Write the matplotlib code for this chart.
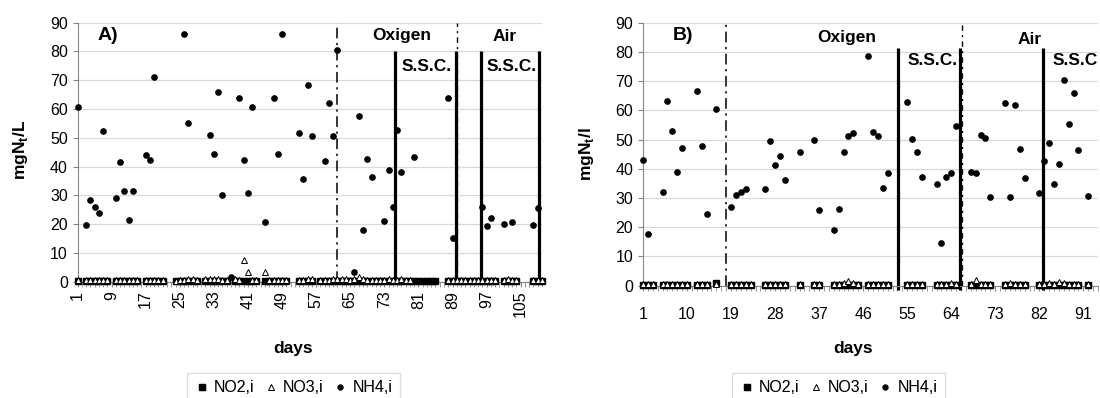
import matplotlib
matplotlib.use('Agg')
import matplotlib.pyplot as plt
from matplotlib.lines import Line2D
import numpy as np

plt.rcParams['font.family'] = 'Liberation Sans'
plt.rcParams['mathtext.fontset'] = 'custom'
plt.rcParams['mathtext.rm'] = 'Liberation Sans'
plt.rcParams['mathtext.bf'] = 'Liberation Sans:bold'

nan = np.nan

# ---- panel A data ----
a_n_days = 110
a_tick_days = [1, 9, 17, 25, 33, 41, 49, 57, 65, 73, 81, 89, 97, 105]

a_nh4_days = [1, 3, 4, 5, 6, 7, 10, 11, 12, 13, 14, 17, 18, 19, 26, 27, 32, 33, 34, 35,
              37, 39, 40, 41, 42, 45, 47, 48, 49, 53, 54, 55, 56, 59, 60, 61, 62, 66, 67, 68,
              69, 70, 73, 74, 75, 76, 77, 80, 88, 89, 96, 97, 98, 101, 103, 108, 109]
a_nh4 = [60.6, 19.7, 28.3, 25.8, 24.0, 52.3, 29.1, 41.6, 31.5, 21.4, 31.5, 44.0, 42.2, 71.1,
         85.9, 55.0, 51.0, 44.4, 65.9, 30.0, 1.7, 63.8, 42.2, 30.9, 60.8, 20.9, 63.8, 44.4,
         86.2, 51.8, 35.6, 68.2, 50.5, 42.0, 62.0, 50.8, 80.4, 3.5, 57.6, 18.0, 42.5, 36.5,
         21.2, 38.9, 25.8, 52.7, 38.0, 43.2, 64.0, 15.1, 26.1, 19.4, 22.1, 20.0, 20.6, 19.7, 25.5]

a_no_days = [1, 3, 4, 5, 6, 7, 8, 10, 11, 12, 13, 14, 15, 17, 18, 19, 20, 21,
             24, 25, 26, 27, 28, 29, 31, 32, 33, 34, 35, 36, 38, 39, 40, 41, 42, 43,
             45, 46, 47, 48, 49, 50, 53, 54, 55, 56, 58, 59, 60, 61, 62, 63, 64,
             65, 66, 67, 68, 69, 70, 71, 72, 73, 74, 75, 76, 77, 78, 79, 80, 81, 82, 83, 84, 85,
             88, 89, 90, 91, 92, 93, 94, 95, 96, 97, 98, 99, 101, 102, 103, 104, 108, 109, 110]
a_no2 = [0.3, 0.2, 0.2, 0.2, 0.2, 0.2, 0.2, 0.2, 0.2, 0.2, 0.2, 0.2, 0.2, 0.2, 0.2, 0.2, 0.2, 0.2,
         0.2, 0.2, 0.2, 0.2, 0.2, 0.2, 0.2, 0.2, 0.2, 0.2, 0.2, 0.2, 0.2, 0.2, 0.2, 0.2, 0.2, 0.2,
         0.4, 0.2, 0.2, 0.2, 0.2, 0.2, 0.2, 0.2, 0.2, 0.2, 0.2, 0.2, 0.2, 0.2, 0.2, 0.2, 0.2,
         0.3, 0.3, 0.3, 0.2, 0.2, 0.2, 0.2, 0.2, 0.2, 0.2, 0.2, 0.2, 0.2, 0.2, 0.2, 0.2, 0.2, 0.2, 0.2, 0.2, 0.2,
         0.2, 0.2, 0.2, 0.2, 0.2, 0.2, 0.2, 0.2, 0.2, 0.2, 0.2, 0.2, 0.2, 0.2, 0.2, 0.2, 0.2, 0.2, 0.2]
a_no3 = [0.6, 0.6, 0.7, 0.6, 0.6, 0.7, 0.6, 0.6, 0.6, 0.7, 0.6, 0.6, 0.7, 0.7, 0.6, 0.7, 0.6, 0.5,
         0.4, 0.5, 0.6, 1.0, 1.1, 0.6, 0.8, 0.9, 0.8, 1.0, 0.7, 0.6, 0.8, 0.6, 7.6, 3.3, 0.7, 0.5,
         3.4, 0.6, 0.7, 0.6, 0.7, 0.6, 0.6, 0.7, 1.0, 0.8, 0.6, 0.7, 0.7, 0.8, 0.9, 1.0, 0.8,
         0.7, 1.0, 1.8, 0.9, 0.6, 0.7, 0.6, 0.6, 0.7, 0.8, 0.6, 0.7, 0.8, 0.6, 0.6, nan, nan, nan, nan, nan, nan,
         0.6, 0.7, 0.6, 0.7, 0.6, 0.7, 0.6, 0.7, 0.7, 0.7, 0.6, 0.6, 0.7, 0.8, 0.7, 0.6, 0.6, 0.7, 0.6]

# ---- panel B data ----
b_n_days = 94
b_tick_days = [1, 10, 19, 28, 37, 46, 55, 64, 73, 82, 91]

b_nh4_days = [1, 2, 5, 6, 7, 8, 9, 12, 13, 14, 16, 19, 20, 21, 22, 26, 27, 28, 29, 30,
              33, 36, 37, 40, 41, 42, 43, 44, 47, 48, 49, 50, 51, 55, 56, 57, 58, 61, 62, 63,
              64, 65, 68, 69, 70, 71, 72, 75, 76, 77, 78, 79, 82, 83, 84, 85, 86, 87, 88, 89, 90, 92]
b_nh4 = [43.0, 17.7, 32.0, 63.1, 53.1, 39.0, 47.1, 66.6, 47.7, 24.6, 60.5, 27.0, 31.2, 32.0,
         33.1, 33.1, 49.5, 41.4, 44.4, 36.0, 45.6, 49.8, 25.8, 18.9, 26.3, 45.6, 51.3, 52.2,
         78.6, 52.6, 51.3, 33.6, 38.4, 62.7, 50.2, 45.6, 37.3, 34.9, 14.5, 37.3, 38.4, 54.7,
         39.0, 38.4, 51.7, 50.5, 30.3, 62.4, 30.3, 61.9, 46.9, 36.9, 31.6, 42.6, 48.7, 34.7,
         41.8, 70.4, 55.5, 65.8, 46.3, 30.7]

b_no_days = [1, 2, 3, 5, 6, 7, 8, 9, 10, 12, 13, 14, 16, 19, 20, 21, 22, 23,
             26, 27, 28, 29, 30, 33, 36, 37, 40, 41, 42, 43, 44, 45, 47, 48, 49, 50, 51,
             55, 56, 57, 58, 61, 62, 63, 64, 65, 68, 69, 70, 71, 72, 75, 76, 77, 78, 79,
             82, 83, 84, 85, 86, 87, 88, 89, 90, 92]
b_no2 = [0.2, 0.2, 0.2, 0.2, 0.2, 0.2, 0.2, 0.2, 0.2, 0.2, 0.2, 0.2, 1.0, 0.2, 0.3, 0.3, 0.2, 0.2,
         0.2, 0.2, 0.2, 0.2, 0.2, 0.2, 0.2, 0.2, 0.2, 0.2, 0.2, 0.2, 0.2, 0.2, 0.2, 0.2, 0.2, 0.2, 0.2,
         0.2, 0.2, 0.2, 0.2, 0.2, 0.2, 0.2, 0.2, 0.2, 0.2, 0.2, 0.2, 0.2, 0.2, 0.2, 0.2, 0.2, 0.2, 0.2,
         0.2, 0.2, 0.2, 0.2, 0.2, 0.2, 0.2, 0.2, 0.2, 0.2]
b_no3 = [0.6, 0.6, 0.6, 0.6, 0.6, 0.7, 0.6, 0.6, 0.6, 0.6, 0.6, 0.6, 0.6, 0.6, 0.6, 0.6, 0.6, 0.6,
         0.6, 0.6, 0.6, 0.6, 0.6, 0.6, 0.6, 0.6, 0.6, 0.6, 0.9, 1.5, 1.0, 0.6, 0.6, 0.6, 0.7, 0.6, 0.6,
         0.6, 0.6, 0.6, 0.6, 0.6, 0.6, 0.7, 0.8, 0.6, 0.7, 1.8, 0.6, 0.7, 0.6, 0.6, 0.9, 0.7, 0.6, 0.6,
         0.6, 0.7, 0.8, 0.7, 1.2, 1.0, 0.7, 0.7, 0.6, 0.6]


def style_panel(ax, n_days, tick_days):
    ax.set_xlim(1, n_days)
    ax.set_ylim(0, 90)
    ax.set_yticks(range(0, 91, 10))
    ax.set_xticks(tick_days)
    ax.set_xticks(range(1, n_days + 1), minor=True)
    ax.grid(axis='y', color='#d9d9d9', lw=0.9)
    ax.set_axisbelow(True)
    for s in ['top', 'right']:
        ax.spines[s].set_visible(False)
    for s in ['left', 'bottom']:
        ax.spines[s].set_color('#868686')
    ax.tick_params(axis='both', which='both', color='#868686', direction='out', length=3.5)
    ax.tick_params(axis='both', labelsize=11.5)


def draw_series(ax, no_days, no2, no3, nh4_days, nh4):
    ax.plot(no_days, no2, ls='none', marker='s', ms=3.8, color='black', clip_on=False, zorder=3)
    ax.plot(no_days, no3, ls='none', marker='^', ms=4.3, mfc='white', mec='black',
            mew=0.7, clip_on=False, zorder=4)
    ax.plot(nh4_days, nh4, ls='none', marker='o', ms=3.8, color='black', clip_on=False, zorder=5)


fig = plt.figure(figsize=(11, 3.98), dpi=100)

# panel A
ax1 = fig.add_axes([77.5 / 1100, 1 - 281.7 / 398, (542 - 77.5) / 1100, (281.7 - 22.7) / 398])
style_panel(ax1, a_n_days, a_tick_days)
ax1.tick_params(axis='x', labelrotation=90, pad=3)
draw_series(ax1, a_no_days, a_no2, a_no3, a_nh4_days, a_nh4)
ax1.axvline(61.8, color='black', lw=1.1, ls=(0, (7, 3, 1.5, 3)))
ax1.axvline(90.1, color='black', lw=1.0, ls=(0, (4, 3, 1.5, 3)))
ax1.vlines([75.5, 89.8, 95.6, 109.3], 0, 80, colors='black', lw=2.3, clip_on=False)
ax1.text(8.0, 85.6, 'A)', fontsize=14, fontweight='bold', ha='center', va='center')
ax1.text(77.1, 85.4, 'Oxigen', fontsize=12.5, fontweight='bold', ha='center', va='center')
ax1.text(83.0, 74.7, 'S.S.C.', fontsize=12.5, fontweight='bold', ha='center', va='center')
ax1.text(101.3, 85.3, 'Air', fontsize=12.5, fontweight='bold', ha='center', va='center')
ax1.text(102.9, 74.7, 'S.S.C.', fontsize=12.5, fontweight='bold', ha='center', va='center')

# panel B
ax2 = fig.add_axes([643 / 1100, 1 - 285.7 / 398, (1098 - 643) / 1100, (285.7 - 22.7) / 398])
style_panel(ax2, b_n_days, b_tick_days)
ax2.tick_params(axis='x', pad=12, length=3.5)
draw_series(ax2, b_no_days, b_no2, b_no3, b_nh4_days, b_nh4)
ax2.axvline(18.0, color='black', lw=1.1, ls=(0, (7, 3, 1.5, 3)))
ax2.axvline(66.1, color='black', lw=1.0, ls=(0, (4, 3, 1.5, 3)))
ax2.vlines([53.2, 65.7, 82.7], -1.5, 81.2, colors='black', lw=2.3, clip_on=False)
ax2.text(9.2, 85.5, 'B)', fontsize=14, fontweight='bold', ha='center', va='center')
ax2.text(42.7, 84.8, 'Oxigen', fontsize=12.5, fontweight='bold', ha='center', va='center')
ax2.text(60.2, 77.0, 'S.S.C.', fontsize=12.5, fontweight='bold', ha='center', va='center')
ax2.text(80.1, 84.4, 'Air', fontsize=12.5, fontweight='bold', ha='center', va='center')
ax2.text(89.3, 77.0, 'S.S.C', fontsize=12.5, fontweight='bold', ha='center', va='center')

# axis titles
fig.text(20 / 1100, 1 - 150 / 398, r'mgN$_{\mathbf{t}}$/L', rotation=90, fontsize=12.5,
         fontweight='bold', ha='center', va='center')
fig.text(587 / 1100, 1 - 154 / 398, r'mgN$_{\mathbf{t}}$/l', rotation=90, fontsize=12.5,
         fontweight='bold', ha='center', va='center')
fig.text(293 / 1100, 1 - 348 / 398, 'days', fontsize=12.5, fontweight='bold', ha='center', va='center')
fig.text(853 / 1100, 1 - 349 / 398, 'days', fontsize=12.5, fontweight='bold', ha='center', va='center')

handles = [
    Line2D([], [], ls='none', marker='s', ms=5, color='black', label='NO2,i'),
    Line2D([], [], ls='none', marker='^', ms=4.5, mfc='white', mec='black', mew=0.7, label='NO3,i'),
    Line2D([], [], ls='none', marker='o', ms=3.5, color='black', label='NH4,i'),
]
for cx, cy in [(293.5, 373), (838.5, 373)]:
    leg = fig.legend(handles=handles, loc='upper center', bbox_to_anchor=(cx / 1100, 1 - cy / 398),
                     ncol=3, fontsize=11.5, frameon=True, fancybox=False, edgecolor='#d9d9d9',
                     handlelength=0.9, handletextpad=0.3, columnspacing=0.6, borderpad=0.45,
                     borderaxespad=0)
    leg.get_frame().set_linewidth(0.9)
    fig.add_artist(leg)

fig.savefig('out.png', dpi=100)
